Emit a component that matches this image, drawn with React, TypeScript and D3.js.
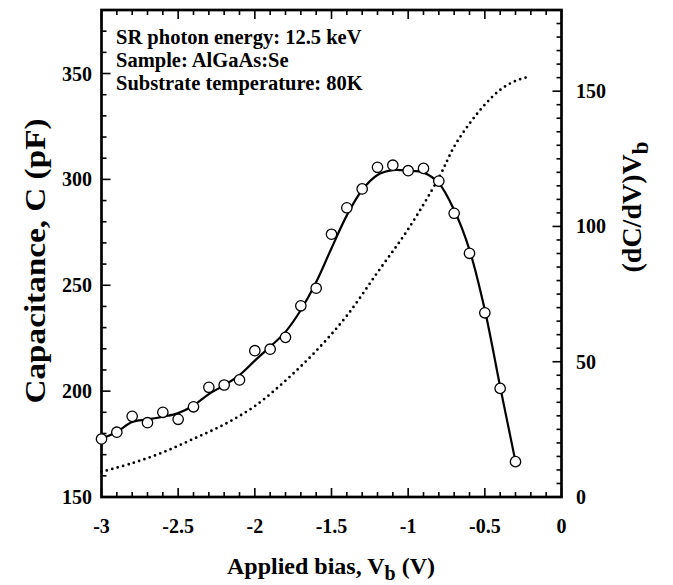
import React from 'react';
import * as d3 from 'd3';

// Measured capacitance (open circles)
const biasV = [-3.0, -2.9, -2.8, -2.7, -2.6, -2.5, -2.4, -2.3, -2.2, -2.1, -2.0, -1.9, -1.8, -1.7, -1.6, -1.5, -1.4, -1.3, -1.2, -1.1, -1.0, -0.9, -0.8, -0.7, -0.6, -0.5, -0.4, -0.3];
const capacitance = [177.4, 180.6, 188.1, 185.1, 190.0, 186.7, 192.6, 201.8, 202.9, 205.3, 219.1, 219.8, 225.4, 240.3, 248.6, 274.1, 286.6, 295.5, 305.7, 306.7, 304.1, 305.2, 299.2, 284.0, 265.1, 237.0, 201.3, 166.7];

// Smooth fit through the capacitance data (solid line)
const fitBias = [-3.0, -2.9, -2.8, -2.7, -2.6, -2.5, -2.4, -2.3, -2.2, -2.1, -2.0, -1.9, -1.8, -1.7, -1.6, -1.5, -1.4, -1.3, -1.2, -1.1, -1.0, -0.9, -0.8, -0.7, -0.6, -0.5, -0.4, -0.3];
const fitCap = [177.4, 180.8, 185.4, 186.6, 187.9, 189.6, 193.2, 198.6, 202.8, 207.6, 214.4, 221.0, 228.0, 238.3, 251.5, 267.5, 283.0, 295.0, 302.1, 304.4, 304.1, 303.2, 298.2, 285.5, 266.7, 238.3, 202.1, 166.7];

// Derivative (dC/dV) curve, right axis (dotted line)
const derivBias = [-3.0, -2.8, -2.6, -2.4, -2.2, -2.0, -1.8, -1.6, -1.4, -1.2, -1.0, -0.8, -0.7, -0.6, -0.5, -0.4, -0.3, -0.2];
const derivValues = [9.3, 12.5, 16.5, 21.5, 26.8, 33.6, 43.0, 54.0, 67.0, 83.0, 99.0, 118.0, 129.5, 138.0, 145.0, 150.5, 153.8, 155.5];

const xTicks = [-3, -2.5, -2, -1.5, -1, -0.5, 0];
const xTickLabels = ['-3', '-2.5', '-2', '-1.5', '-1', '-0.5', '0'];
const leftTicks = [150, 200, 250, 300, 350];
const rightTicks = [0, 50, 100, 150];
const annotations = ['SR photon energy: 12.5 keV', 'Sample: AlGaAs:Se', 'Substrate temperature: 80K'];

const W = 673;
const H = 585;
const M = { left: 101.5, right: 561.5, top: 10, bottom: 497 };
const FONT = '"Liberation Serif", "Times New Roman", serif';

export default function App() {
  const x = d3.scaleLinear().domain([-3, 0]).range([M.left, M.right]);
  const yL = d3.scaleLinear().domain([150, 380]).range([M.bottom, M.top]);
  const yR = d3.scaleLinear().domain([0, 180]).range([M.bottom, M.top]);

  const fitLine = d3
    .line<number>()
    .x((_, i) => x(fitBias[i]))
    .y((d) => yL(d))
    .curve(d3.curveCatmullRom.alpha(0.5));
  const derivLine = d3
    .line<number>()
    .x((_, i) => x(derivBias[i]))
    .y((d) => yR(d))
    .curve(d3.curveCatmullRom.alpha(0.5));

  const xMinor = d3.range(0, 31).map((i) => -3 + i * 0.1);
  const lMinor = d3.range(0, 24).map((i) => 150 + i * 10);
  const rMinor = d3.range(0, 37).map((i) => i * 5);

  const isMajorX = (v: number) => Math.abs(v * 2 - Math.round(v * 2)) < 1e-6;
  const isMajor50 = (v: number) => Math.abs(v % 50) < 1e-6;

  const tickStyle = { stroke: '#000', strokeWidth: 1.6 };

  return (
    <svg width={W} height={H} style={{ position: 'absolute', left: 0, top: 0, background: '#fff' }}>
      <rect x={0} y={0} width={W} height={H} fill="#fff" />
      {/* x ticks bottom & top */}
      {xMinor.map((v, i) => {
        const len = isMajorX(v) ? 9 : 5;
        const px = x(v);
        return (
          <g key={'xt' + i}>
            <line x1={px} x2={px} y1={M.bottom} y2={M.bottom - len} {...tickStyle} />
            <line x1={px} x2={px} y1={M.top} y2={M.top + len} {...tickStyle} />
          </g>
        );
      })}
      {/* left ticks */}
      {lMinor.map((v, i) => {
        const len = isMajor50(v) ? 9 : 5;
        const py = yL(v);
        return <line key={'lt' + i} x1={M.left} x2={M.left + len} y1={py} y2={py} {...tickStyle} />;
      })}
      {/* right ticks */}
      {rMinor.map((v, i) => {
        const len = isMajor50(v) ? 9 : 5;
        const py = yR(v);
        return <line key={'rt' + i} x1={M.right} x2={M.right - len} y1={py} y2={py} {...tickStyle} />;
      })}
      {/* frame */}
      <rect x={M.left} y={M.top} width={M.right - M.left} height={M.bottom - M.top} fill="none" stroke="#000" strokeWidth={2.7} />

      {/* derivative dotted */}
      <path d={derivLine(derivValues) || ''} fill="none" stroke="#000" strokeWidth={2.8} strokeDasharray="0 5.6" strokeLinecap="round" />
      {/* fit line */}
      <path d={fitLine(fitCap) || ''} fill="none" stroke="#000" strokeWidth={2.2} />
      {/* points */}
      {capacitance.map((c, i) => (
        <circle key={'p' + i} cx={x(biasV[i])} cy={yL(c)} r={5.2} fill="#fff" stroke="#000" strokeWidth={1.3} />
      ))}

      {/* tick labels */}
      <g fontFamily={FONT} fontWeight="bold" fontSize={20}>
        {xTicks.map((v, i) => (
          <text key={'xl' + i} x={x(v)} y={533} textAnchor="middle">
            {xTickLabels[i]}
          </text>
        ))}
        {leftTicks.map((v, i) => (
          <text key={'ll' + i} x={92} y={yL(v) + 7} textAnchor="end">
            {String(v)}
          </text>
        ))}
        {rightTicks.map((v, i) => (
          <text key={'rl' + i} x={576} y={yR(v) + 7} textAnchor="start">
            {String(v)}
          </text>
        ))}
      </g>

      {/* annotations */}
      <g fontFamily={FONT} fontWeight="bold" fontSize={20.5}>
        {annotations.map((t, i) => (
          <text key={'a' + i} x={116} y={44 + i * 23}>
            {t}
          </text>
        ))}
      </g>

      {/* axis titles */}
      <text x={331} y={574} textAnchor="middle" fontFamily={FONT} fontWeight="bold" fontSize={24}>
        Applied bias, V<tspan dy={6} fontSize={20}>b</tspan>
        <tspan dy={-6}> (V)</tspan>
      </text>
      <text
        transform={`translate(45, 261) rotate(-90)`}
        textAnchor="middle"
        fontFamily={FONT}
        fontWeight="bold"
        fontSize={30}
        textLength={285}
        lengthAdjust="spacingAndGlyphs"
      >
        Capacitance, C (pF)
      </text>
      <text
        transform={`translate(641, 207) rotate(-90)`}
        textAnchor="middle"
        fontFamily={FONT}
        fontWeight="bold"
        fontSize={28}
      >
        (dC/dV)V<tspan dy={7} fontSize={23}>b</tspan>
      </text>
    </svg>
  );
}
